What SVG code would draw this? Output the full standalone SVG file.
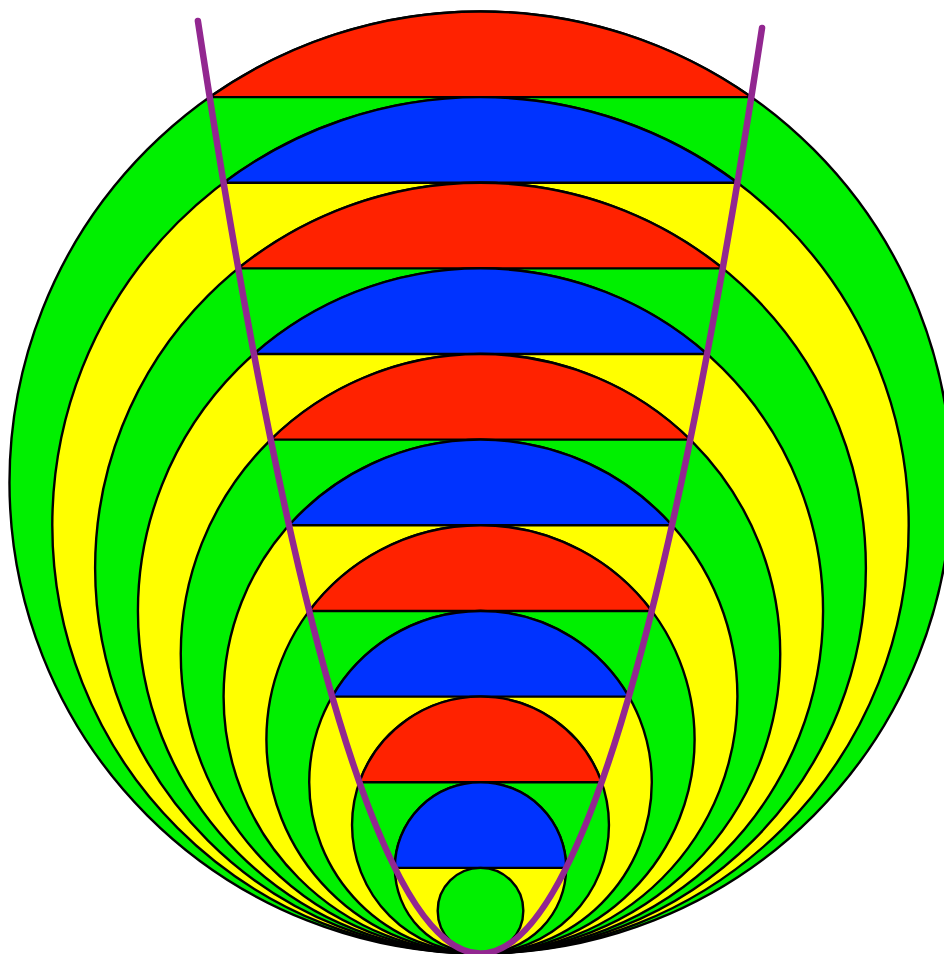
<svg xmlns="http://www.w3.org/2000/svg" width="944" height="954" viewBox="0 0 944 954">
<style>
.c,.p{stroke:#000;stroke-width:2.4;stroke-linejoin:round}
.g{fill:#00F000}.y{fill:#FFFF00}.r{fill:#FF2200}.b{fill:#0033FF}
.para{fill:none;stroke:#922790;stroke-width:6.5;stroke-linecap:round}
</style>
<rect width="944" height="954" fill="#fff"/>
<g id="rings">
<g id="n11"><circle class="c g" cx="480.5" cy="482.48" r="471.02"/><path class="p r" d="M209.68,97.1 A471.02,471.02 0 0 1 751.32,97.1 Z"/></g>
<g id="n10"><circle class="c y" cx="480.5" cy="525.3" r="428.2"/><path class="p b" d="M223.58,182.74 A428.2,428.2 0 0 1 737.42,182.74 Z"/></g>
<g id="n9"><circle class="c g" cx="480.5" cy="568.12" r="385.38"/><path class="p r" d="M238.27,268.38 A385.38,385.38 0 0 1 722.73,268.38 Z"/></g>
<g id="n8"><circle class="c y" cx="480.5" cy="610.94" r="342.56"/><path class="p b" d="M253.92,354.02 A342.56,342.56 0 0 1 707.08,354.02 Z"/></g>
<g id="n7"><circle class="c g" cx="480.5" cy="653.76" r="299.74"/><path class="p r" d="M270.73,439.66 A299.74,299.74 0 0 1 690.27,439.66 Z"/></g>
<g id="n6"><circle class="c y" cx="480.5" cy="696.58" r="256.92"/><path class="p b" d="M289,525.3 A256.92,256.92 0 0 1 672,525.3 Z"/></g>
<g id="n5"><circle class="c g" cx="480.5" cy="739.4" r="214.1"/><path class="p r" d="M309.22,610.94 A214.1,214.1 0 0 1 651.78,610.94 Z"/></g>
<g id="n4"><circle class="c y" cx="480.5" cy="782.22" r="171.28"/><path class="p b" d="M332.17,696.58 A171.28,171.28 0 0 1 628.83,696.58 Z"/></g>
<g id="n3"><circle class="c g" cx="480.5" cy="825.04" r="128.46"/><path class="p r" d="M359.39,782.22 A128.46,128.46 0 0 1 601.61,782.22 Z"/></g>
<g id="n2"><circle class="c y" cx="480.5" cy="867.86" r="85.64"/><path class="p b" d="M394.86,867.86 A85.64,85.64 0 0 1 566.14,867.86 Z"/></g>
<g id="n1"><circle class="c g" cx="480.5" cy="910.68" r="42.82"/></g>
</g>
<g id="connectors">
<path id="parabola" class="para" d="M197.91,21 Q479.97,1882.48 762.03,28"/>
</g>
</svg>
